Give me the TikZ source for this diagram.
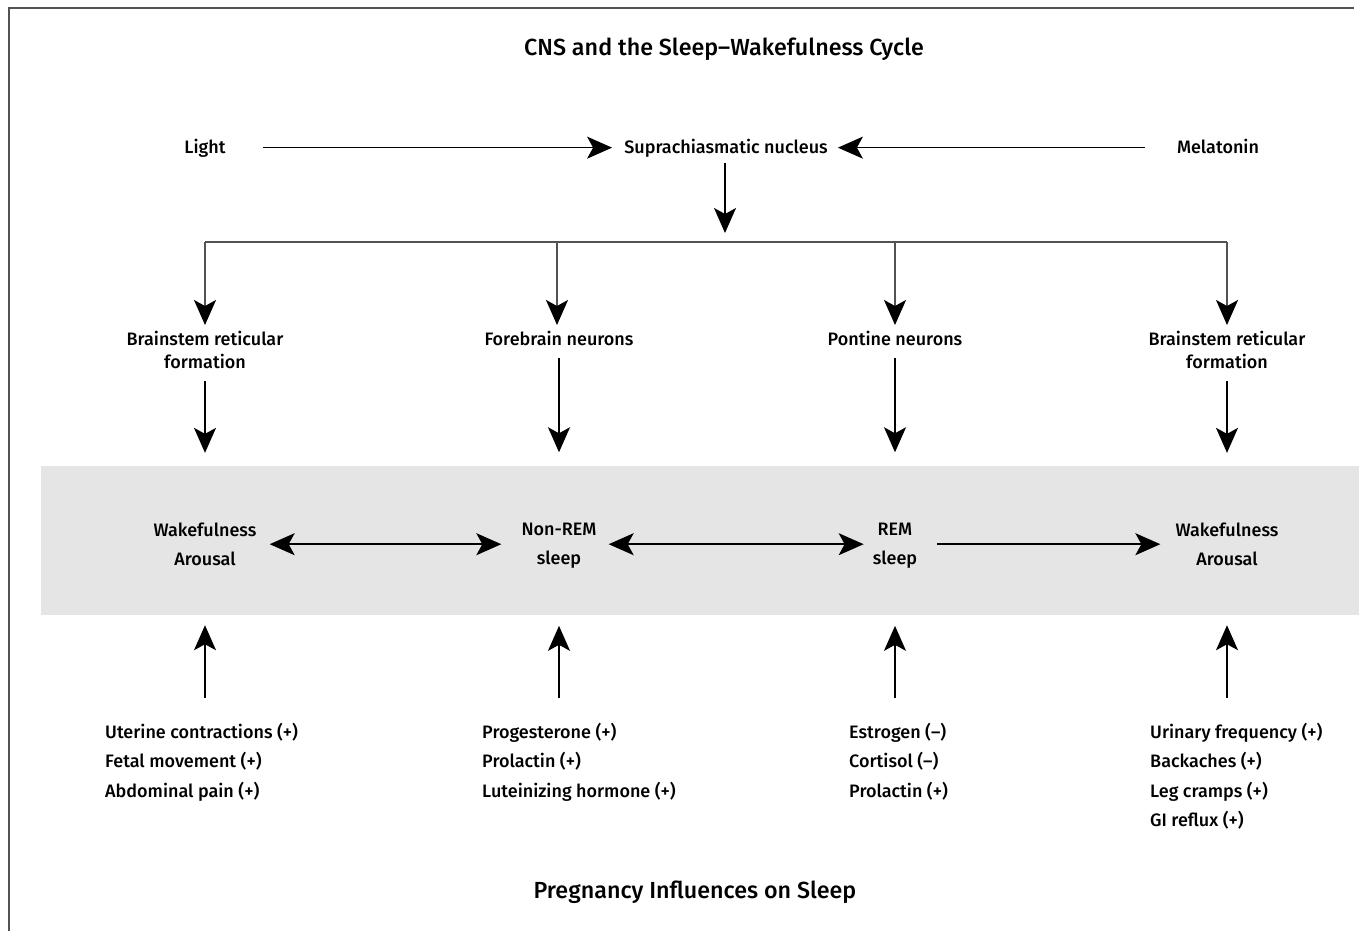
\documentclass[tikz,border=0pt]{standalone}
\usepackage{fontspec}
\setmainfont{Fira Sans}[UprightFont={* Medium}]
\usetikzlibrary{arrows.meta}
\newcommand\pz{\vphantom{(}}
\begin{document}
\begin{tikzpicture}[x=1pt,y=-1pt,
  lbl/.style={inner sep=0pt, align=center, font=\fontsize{18}{23}\selectfont},
  band/.style={inner sep=0pt, align=center, font=\fontsize{18}{29}\selectfont},
  lst/.style={inner sep=0pt, align=left, anchor=north west, font=\fontsize{18}{29.5}\selectfont},
  ttl/.style={inner sep=0pt, font=\fontsize{23.3}{27}\selectfont},
  tip/.style={-{Stealth[length=25pt,width=22pt,inset=6pt,black]}},
  dtip/.style={{Stealth[length=25pt,width=22pt,inset=6pt,black]}-{Stealth[length=25pt,width=22pt,inset=6pt,black]}},
  arr/.style={line width=1.5pt, tip},
  darr/.style={line width=1.5pt, dtip},
  bar/.style={line width=2pt, draw=black!68},
  frame/.style={line width=2pt, draw=black!68},
]
\useasboundingbox (0,0) rectangle (1359,931);
\fill[fill=black!10] (41,466) rectangle (1359,615);
\draw[frame] (9,931) -- (9,8) -- (1354,8);

% titles
\node[ttl] (t1) at (724,48.5) {\pz CNS and the Sleep–Wakefulness Cycle};
\node[ttl] (t2) at (695,891) {\pz Pregnancy Influences on Sleep};

% top row
\node[lbl] (light) at (205,147.65) {\pz Light};
\node[lbl] (scn) at (726,147.65) {\pz Suprachiasmatic nucleus};
\node[lbl] (mel) at (1218,147.65) {\pz Melatonin};
\draw[arr, shorten <=37pt, shorten >=12pt] (light) -- (scn);
\draw[arr, shorten <=32pt, shorten >=10pt] (mel) -- (scn);

\coordinate (hub) at (725,242);
\coordinate (d1) at (205,242);
\coordinate (d2) at (557,242);
\coordinate (d3) at (895,242);
\coordinate (d4) at (1227,242);
\draw[arr, shorten <=6pt, shorten >=9pt] (scn.south -| hub) -- (hub);

% second row labels
\node[lbl, anchor=north] (bs1) at (205,329.6) {\pz Brainstem reticular\\formation\pz};
\node[lbl, anchor=north] (fb) at (559,329.6) {\pz Forebrain neurons};
\node[lbl, anchor=north] (pn) at (895,329.6) {\pz Pontine neurons};
\node[lbl, anchor=north] (bs2) at (1227,329.6) {\pz Brainstem reticular\\formation\pz};

\draw[bar] (d1) -- (d4);
\draw[bar, tip, shorten >=4.6pt] (d1) -- (d1 |- bs1.north);
\draw[bar, tip, shorten >=4.6pt] (d2) -- (d2 |- fb.north);
\draw[bar, tip, shorten >=4.6pt] (d3) -- (d3 |- pn.north);
\draw[bar, tip, shorten >=4.6pt] (d4) -- (d4 |- bs2.north);

% band states
\node[band] (wake1) at (205,544.2) {\pz Wakefulness\\Arousal\pz};
\node[band] (nrem) at (559,544.2) {\pz Non-REM\\sleep\pz};
\node[band] (rem) at (895,544.2) {\pz REM\\sleep\pz};
\node[band] (wake2) at (1227,544.2) {\pz Wakefulness\\Arousal\pz};

\draw[arr, shorten <=10pt, shorten >=67.6pt] (bs1.south -| wake1) -- (wake1.north);
\draw[arr, shorten <=10pt, shorten >=67.6pt] (fb.south -| nrem) -- (nrem.north);
\draw[arr, shorten <=10pt, shorten >=67.6pt] (pn.south -| rem) -- (rem.north);
\draw[arr, shorten <=10pt, shorten >=67.6pt] (bs2.south -| wake2) -- (wake2.north);

\draw[darr, shorten <=13pt, shorten >=20pt] (wake1) -- (nrem);
\draw[darr, shorten <=12pt, shorten >=9pt] (nrem) -- (rem);
\draw[arr, shorten <=20pt, shorten >=15pt] (rem) -- (wake2);

% lists
\node[lst] (l1) at (105,722.6) {\pz Uterine contractions (+)\\Fetal movement (+)\\Abdominal pain (+)};
\node[lst] (l2) at (482,722.6) {\pz Progesterone (+)\\Prolactin (+)\\Luteinizing hormone (+)};
\node[lst] (l3) at (849,722.6) {\pz Estrogen (–)\\Cortisol (–)\\Prolactin (+)};
\node[lst] (l4) at (1150,722.6) {\pz Urinary frequency (+)\\Backaches (+)\\Leg cramps (+)\\GI reflux (+)};

\draw[arr, shorten <=24.6pt, shorten >=57.3pt] (l1.north -| wake1) -- (wake1.south);
\draw[arr, shorten <=24.6pt, shorten >=57.3pt] (l2.north -| nrem) -- (nrem.south);
\draw[arr, shorten <=24.6pt, shorten >=57.3pt] (l3.north -| rem) -- (rem.south);
\draw[arr, shorten <=24.6pt, shorten >=57.3pt] (l4.north -| wake2) -- (wake2.south);
\end{tikzpicture}
\end{document}
